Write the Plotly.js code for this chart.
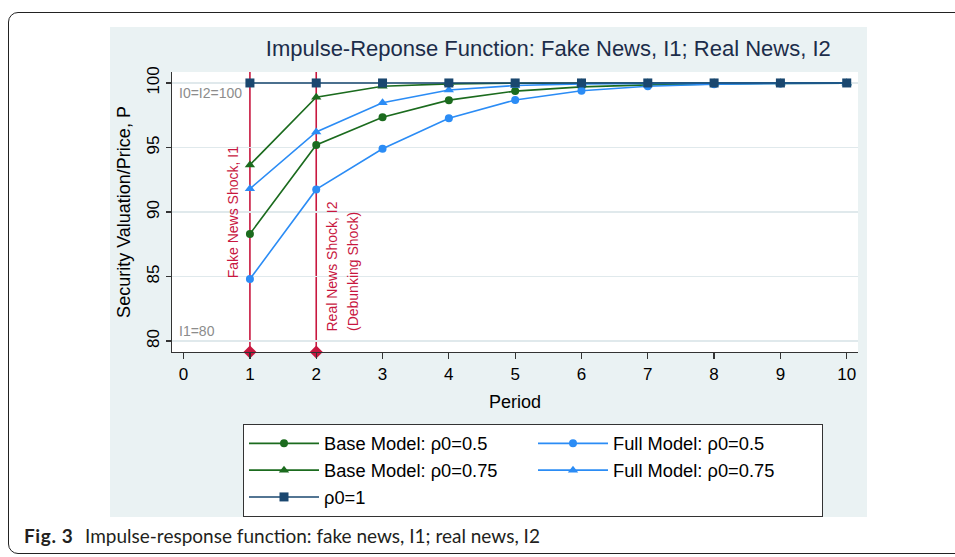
<!DOCTYPE html>
<html>
<head>
<meta charset="utf-8">
<script src="https://cdn.plot.ly/plotly-3.0.1.min.js"></script>
<style>
  html, body { margin: 0; padding: 0; width: 955px; height: 557px; overflow: hidden; background: #ffffff; }
  #frame { position: absolute; left: 8px; top: 12px; width: 1000px; height: 542px; border: 1.5px solid #222; border-radius: 10px; box-sizing: border-box; }
  #chart { position: absolute; left: 110px; top: 27px; width: 757px; height: 490px; }
  #caption { position: absolute; left: 24px; top: 524px; font-family: Lato, "Open Sans", sans-serif; font-size: 19px; color: #231f20; white-space: nowrap; line-height: 24px; }
  #caption b { font-weight: 700; display: inline-block; width: 61px; letter-spacing: 0.6px; }
</style>
</head>
<body>
<div id="frame"></div>
<div id="chart"></div>
<div id="caption"><b>Fig. 3</b>Impulse-response function: fake news, I1; real news, I2</div>
<script>
// ---- data ----
const periods = [1, 2, 3, 4, 5, 6, 7, 8, 9, 10];
const baseRho05 = [88.3, 95.2, 97.35, 98.67, 99.37, 99.7, 99.85, 99.93, 99.97, 99.99];
const baseRho075 = [93.65, 98.9, 99.75, 99.93, 99.98, 100, 100, 100, 100, 100];
const fullRho05 = [84.8, 91.75, 94.9, 97.27, 98.68, 99.4, 99.75, 99.9, 99.96, 99.99];
const fullRho075 = [91.8, 96.2, 98.47, 99.45, 99.8, 99.93, 99.97, 99.99, 100, 100];
const rho1 = [100, 100, 100, 100, 100, 100, 100, 100, 100, 100];
const shockPeriods = [1, 2];
const refLevels = [100, 80];
const refLabels = ["I0=I2=100", "I1=80"];
const xTicks = [0, 1, 2, 3, 4, 5, 6, 7, 8, 9, 10];
const yTicks = [80, 85, 90, 95, 100];

// ---- styles ----
const FONT = "Arial, 'Liberation Sans', sans-serif";
const GREEN = "#1b6b1e";
const BLUE = "#2b8cf5";
const NAVY = "#1a476f";
const RED = "#c8173f";
const GRAY = "#8c8c8c";
const yRange = [79.15, 100.85];
const xRange = [-0.175, 10.17];

const traces = [];
// shock markers (diamonds on the axis)
traces.push({
  x: shockPeriods, y: shockPeriods.map(() => yRange[0]),
  type: "scatter", mode: "markers", showlegend: false, hoverinfo: "skip",
  cliponaxis: false,
  marker: { symbol: "diamond", size: 10, color: RED }
});
function series(name, y, color, symbol, size) {
  return {
    x: periods, y: y, name: name, type: "scatter", mode: "lines+markers",
    line: { color: color, width: 1.6 },
    marker: { symbol: symbol, size: size, color: color },
    cliponaxis: false
  };
}
traces.push(series("Base Model: ρ0=0.5", baseRho05, GREEN, "circle", 8));
traces.push(series("Full Model: ρ0=0.5", fullRho05, BLUE, "circle", 8));
traces.push(series("Base Model: ρ0=0.75", baseRho075, GREEN, "triangle-up", 9));
traces.push(series("Full Model: ρ0=0.75", fullRho075, BLUE, "triangle-up", 9));
traces.push(series("ρ0=1", rho1, NAVY, "square", 9));

const shapes = [];
refLevels.forEach(v => shapes.push({
  type: "line", xref: "paper", x0: 0, x1: 1, yref: "y", y0: v, y1: v,
  line: { color: GRAY, width: 1.5 }, layer: "below"
}));
shockPeriods.forEach(p => shapes.push({
  type: "line", xref: "x", x0: p, x1: p, yref: "paper", y0: 0, y1: 1,
  line: { color: RED, width: 1.6 }, layer: "below"
}));

const annotations = [
  { xref: "paper", x: 0, xanchor: "left", xshift: 5, yref: "y", y: refLevels[0], yanchor: "top",
    text: refLabels[0], showarrow: false, font: { family: FONT, size: 14, color: GRAY } },
  { xref: "paper", x: 0, xanchor: "left", xshift: 5, yref: "y", y: refLevels[1], yanchor: "bottom",
    text: refLabels[1], showarrow: false, font: { family: FONT, size: 14, color: GRAY } },
  { xref: "x", x: shockPeriods[0], xanchor: "right", xshift: -7, yref: "y", y: 84.7, yanchor: "bottom",
    text: "Fake News Shock, I1", textangle: -90, showarrow: false, font: { family: FONT, size: 14, color: RED } },
  { xref: "x", x: shockPeriods[1], xanchor: "left", xshift: 6, yref: "y", y: 80.6, yanchor: "bottom",
    text: "Real News Shock, I2", textangle: -90, showarrow: false, font: { family: FONT, size: 14, color: RED } },
  { xref: "x", x: shockPeriods[1], xanchor: "left", xshift: 27, yref: "y", y: 80.6, yanchor: "bottom",
    text: "(Debunking Shock)", textangle: -90, showarrow: false, font: { family: FONT, size: 14, color: RED } }
];

const layout = {
  width: 757, height: 490,
  margin: { l: 62, r: 9, t: 45, b: 165, pad: 0, autoexpand: false },
  paper_bgcolor: "#eaf2f3",
  plot_bgcolor: "#ffffff",
  font: { family: FONT, size: 17, color: "#000" },
  title: {
    text: "Impulse-Reponse Function: Fake News, I1; Real News, I2",
    font: { family: FONT, size: 22, color: "#1c2d4a" },
    xref: "container", x: 0.579, xanchor: "center",
    yref: "container", y: 0.957, yanchor: "middle"
  },
  xaxis: {
    range: xRange, tickvals: xTicks, ticktext: xTicks.map(String),
    showgrid: false, zeroline: false,
    showline: true, linecolor: "#333", linewidth: 1.2,
    ticks: "outside", ticklen: 6, tickcolor: "#333", tickwidth: 1.2,
    tickfont: { family: FONT, size: 17, color: "#000" },
    title: { text: "Period", font: { family: FONT, size: 18, color: "#000" }, standoff: 12 }
  },
  yaxis: {
    range: yRange, tickvals: yTicks, ticktext: yTicks.map(String),
    tickangle: -90,
    showgrid: true, gridcolor: "#e0e9ec", gridwidth: 1.2, zeroline: false,
    showline: true, linecolor: "#333", linewidth: 1.2,
    ticks: "outside", ticklen: 5, tickcolor: "#333", tickwidth: 1.2,
    tickfont: { family: FONT, size: 17, color: "#000" },
    title: { text: "Security Valuation/Price, P", font: { family: FONT, size: 18, color: "#000" }, standoff: 8 }
  },
  legend: {
    orientation: "h", x: 0.1035, xanchor: "left", y: -0.257, yanchor: "top",
    bgcolor: "#ffffff", bordercolor: "#333", borderwidth: 1,
    font: { family: FONT, size: 18.3, color: "#000" },
    itemwidth: 70,
    entrywidth: 204, entrywidthmode: "pixels", tracegroupgap: 0
  },
  shapes: shapes,
  annotations: annotations,
  showlegend: true
};

Plotly.newPlot("chart", traces, layout, { displayModeBar: false, staticPlot: true });
</script>
</body>
</html>
